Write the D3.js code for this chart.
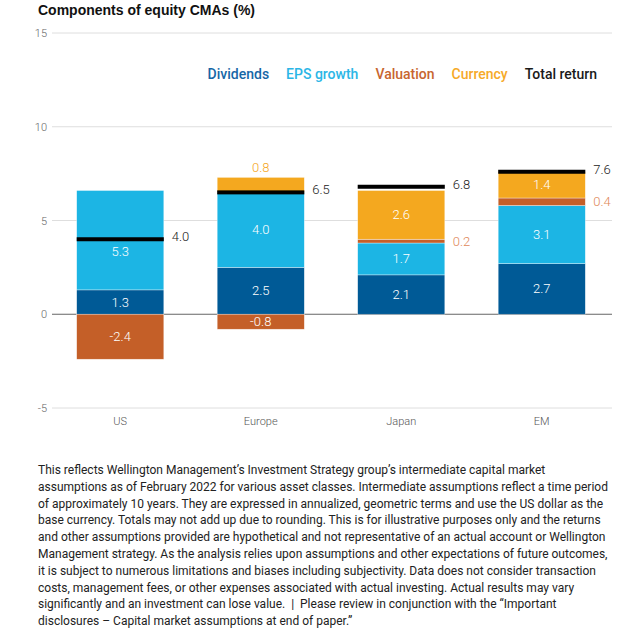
<!DOCTYPE html>
<html>
<head>
<meta charset="utf-8">
<script src="https://cdn.jsdelivr.net/npm/d3@7"></script>
<style>
  body { margin: 0; background: #fff; }
  svg { font-family: "Roboto", "Liberation Sans", sans-serif; }
</style>
</head>
<body>
<svg id="chart" width="624" height="630"></svg>
<script>
const regions = ["US", "Europe", "Japan", "EM"];
const dividends = [1.3, 2.5, 2.1, 2.7];
const epsGrowth = [5.3, 4.0, 1.7, 3.1];
const valuation = [-2.4, -0.8, 0.2, 0.4];
const currency = [0, 0.8, 2.6, 1.4];
const totalReturn = [4.0, 6.5, 6.8, 7.6];
const yTicks = [-5, 0, 5, 10, 15];

const seriesNames = ["Dividends", "EPS growth", "Valuation", "Currency"];
const legendNames = ["Dividends", "EPS growth", "Valuation", "Currency", "Total return"];

const footnote = [
  "This reflects Wellington Management\u2019s Investment Strategy group\u2019s intermediate capital market",
  "assumptions as of February 2022 for various asset classes. Intermediate assumptions reflect a time period",
  "of approximately 10 years. They are expressed in annualized, geometric terms and use the US dollar as the",
  "base currency. Totals may not add up due to rounding. This is for illustrative purposes only and the returns",
  "and other assumptions provided are hypothetical and not representative of an actual account or Wellington",
  "Management strategy. As the analysis relies upon assumptions and other expectations of future outcomes,",
  "it is subject to numerous limitations and biases including subjectivity. Data does not consider transaction",
  "costs, management fees, or other expenses associated with actual investing. Actual results may vary",
  "significantly and an investment can lose value. \u00a0|\u00a0 Please review in conjunction with the \u201cImportant",
  "disclosures \u2013 Capital market assumptions at end of paper.\u201d"
];

const fill = {
  "Dividends": "#005a96",
  "EPS growth": "#1cb5e4",
  "Valuation": "#c45f28",
  "Currency": "#f4a81f",
  "Total return": "#000000"
};
const legendColor = {
  "Dividends": "#1767a6",
  "EPS growth": "#2bb6e6",
  "Valuation": "#c8652f",
  "Currency": "#f6a928",
  "Total return": "#1a1a1a"
};

const fmt = v => v.toFixed(1);

const rows = regions.map((r, i) => ({
  region: r,
  "Dividends": dividends[i],
  "EPS growth": epsGrowth[i],
  "Valuation": valuation[i],
  "Currency": currency[i],
  total: totalReturn[i]
}));

const svg = d3.select("#chart");
const margin = { left: 52, right: 12, top: 33 };

const x = d3.scaleBand()
  .domain(regions)
  .range([50, 612])
  .paddingInner(0.38)
  .paddingOuter(0.19);

const y = d3.scaleLinear()
  .domain([-5, 15])
  .range([408, 33]);

// title
svg.append("text")
  .attr("x", 38)
  .attr("y", 15)
  .attr("font-size", 14)
  .attr("font-weight", "bold")
  .attr("fill", "#111")
  .attr("font-family", "Liberation Sans, Arial, sans-serif")
  .text("Components of equity CMAs (%)");

// grid + y labels
const yAxis = svg.append("g");
yAxis.selectAll("line")
  .data(yTicks)
  .join("line")
  .attr("x1", margin.left)
  .attr("x2", 612)
  .attr("y1", d => y(d))
  .attr("y2", d => y(d))
  .attr("stroke", d => d === 0 ? "#666" : "#dedede")
  .attr("stroke-width", d => d === 0 ? 1.2 : 1);
yAxis.selectAll("text")
  .data(yTicks)
  .join("text")
  .attr("x", 47)
  .attr("y", d => y(d) + 4)
  .attr("text-anchor", "end")
  .attr("font-size", 11)
  .attr("font-weight", 300)
  .attr("fill", "#666")
  .text(d => d);

// x labels
svg.append("g").selectAll("text")
  .data(regions)
  .join("text")
  .attr("x", d => x(d) + x.bandwidth() / 2)
  .attr("y", 425)
  .attr("text-anchor", "middle")
  .attr("font-size", 11)
  .attr("font-weight", 300)
  .attr("fill", "#555")
  .text(d => d);

// stacked bars
const stack = d3.stack()
  .keys(seriesNames)
  .offset(d3.stackOffsetDiverging);
const layers = stack(rows);

const bars = svg.append("g");
layers.forEach(layer => {
  const g = bars.append("g");
  g.selectAll("rect")
    .data(layer.filter(d => d[1] !== d[0]))
    .join("rect")
    .attr("x", d => x(d.data.region))
    .attr("width", x.bandwidth())
    .attr("y", d => y(Math.max(d[0], d[1])))
    .attr("height", d => Math.abs(y(d[0]) - y(d[1])))
    .attr("fill", fill[layer.key])
    .attr("stroke", "#fff")
    .attr("stroke-opacity", 0.6)
    .attr("stroke-width", 0.6);

  g.selectAll("text")
    .data(layer.filter(d => d[1] !== d[0]))
    .join("text")
    .each(function(d) {
      const v = d.data[layer.key];
      const t = d3.select(this);
      const left = x(d.data.region);
      let mid = (y(d[0]) + y(d[1])) / 2;
      // keep inside labels clear of the total-return marker
      const ty = y(d.data.total);
      if (Math.abs(mid - ty) < 9) mid = ty + 12;
      if (Math.abs(v) < 0.5) {
        t.attr("x", left + x.bandwidth() + 8).attr("y", mid + 4.5)
          .attr("text-anchor", "start").attr("fill", "#e0885a");
      } else if (layer.key === "Currency" && v < 1) {
        t.attr("x", left + x.bandwidth() / 2).attr("y", y(Math.max(d[0], d[1])) - 5)
          .attr("text-anchor", "middle").attr("fill", "#f5a623");
      } else {
        t.attr("x", left + x.bandwidth() / 2).attr("y", mid + 4.5)
          .attr("text-anchor", "middle").attr("fill", "#fff");
      }
    })
    .attr("font-size", 13)
    .attr("font-weight", 300)
    .text(d => fmt(d.data[layer.key]));
});

// total return markers
const totals = svg.append("g");
totals.selectAll("rect")
  .data(rows)
  .join("rect")
  .attr("x", d => x(d.region))
  .attr("width", x.bandwidth())
  .attr("y", d => y(d.total) - 2)
  .attr("height", 4)
  .attr("fill", fill["Total return"]);
totals.selectAll("text")
  .data(rows)
  .join("text")
  .attr("x", d => x(d.region) + x.bandwidth() + 8)
  .attr("y", d => y(d.total) + 2)
  .attr("font-size", 13)
  .attr("font-weight", 300)
  .attr("fill", "#222")
  .text(d => fmt(d.total));

// legend, right-aligned
const legend = svg.append("g");
const items = legend.selectAll("text")
  .data(legendNames)
  .join("text")
  .attr("y", 79)
  .attr("font-size", 14)
  .attr("font-weight", 500)
  .attr("fill", d => legendColor[d])
  .text(d => d);
let cursor = 597;
const nodes = items.nodes();
for (let i = nodes.length - 1; i >= 0; i--) {
  const w = nodes[i].getComputedTextLength();
  cursor -= w;
  d3.select(nodes[i]).attr("x", cursor);
  cursor -= 17;
}

// footnote
svg.append("g").selectAll("text")
  .data(footnote)
  .join("text")
  .attr("x", 38)
  .attr("y", (d, i) => 474 + i * 16.8)
  .attr("font-size", 12)
  .attr("fill", "#222")
  .text(d => d);
</script>
</body>
</html>
